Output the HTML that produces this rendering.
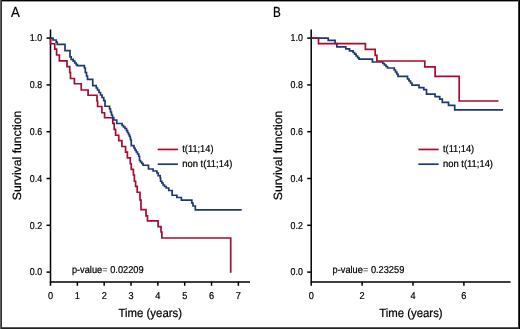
<!DOCTYPE html>
<html><head><meta charset="utf-8"><title>Survival function</title>
<style>html,body{margin:0;padding:0;background:#fff;}body{width:520px;height:329px;overflow:hidden;}svg{display:block;}text{font-family:"Liberation Sans",sans-serif;fill:#000;stroke:#000;stroke-width:0.22px;text-rendering:geometricPrecision;}</style></head><body>
<svg width="520" height="329" viewBox="0 0 520 329">
<rect x="0" y="0" width="520" height="329" fill="#fff"/>
<g fill="none" stroke="#000" stroke-width="1.5">
<path d="M50.50 29.5 V281.9 H250.00"/>
<path d="M46.50 38.10 H50.50"/>
<path d="M46.50 84.90 H50.50"/>
<path d="M46.50 131.70 H50.50"/>
<path d="M46.50 178.50 H50.50"/>
<path d="M46.50 225.30 H50.50"/>
<path d="M46.50 272.10 H50.50"/>
<path d="M50.50 281.9 V285.8"/>
<path d="M77.34 281.9 V285.8"/>
<path d="M104.18 281.9 V285.8"/>
<path d="M131.02 281.9 V285.8"/>
<path d="M157.86 281.9 V285.8"/>
<path d="M184.70 281.9 V285.8"/>
<path d="M211.54 281.9 V285.8"/>
<path d="M238.38 281.9 V285.8"/>
</g>
<text x="29.80" y="41.40" font-size="10.00" text-anchor="start" textLength="12.30" lengthAdjust="spacingAndGlyphs">1.0</text>
<text x="29.80" y="88.20" font-size="10.00" text-anchor="start" textLength="12.30" lengthAdjust="spacingAndGlyphs">0.8</text>
<text x="29.80" y="135.00" font-size="10.00" text-anchor="start" textLength="12.30" lengthAdjust="spacingAndGlyphs">0.6</text>
<text x="29.80" y="181.80" font-size="10.00" text-anchor="start" textLength="12.30" lengthAdjust="spacingAndGlyphs">0.4</text>
<text x="29.80" y="228.60" font-size="10.00" text-anchor="start" textLength="12.30" lengthAdjust="spacingAndGlyphs">0.2</text>
<text x="29.80" y="275.40" font-size="10.00" text-anchor="start" textLength="12.30" lengthAdjust="spacingAndGlyphs">0.0</text>
<text x="47.95" y="298.80" font-size="10.00" text-anchor="start" textLength="5.10" lengthAdjust="spacingAndGlyphs">0</text>
<text x="74.79" y="298.80" font-size="10.00" text-anchor="start" textLength="5.10" lengthAdjust="spacingAndGlyphs">1</text>
<text x="101.63" y="298.80" font-size="10.00" text-anchor="start" textLength="5.10" lengthAdjust="spacingAndGlyphs">2</text>
<text x="128.47" y="298.80" font-size="10.00" text-anchor="start" textLength="5.10" lengthAdjust="spacingAndGlyphs">3</text>
<text x="155.31" y="298.80" font-size="10.00" text-anchor="start" textLength="5.10" lengthAdjust="spacingAndGlyphs">4</text>
<text x="182.15" y="298.80" font-size="10.00" text-anchor="start" textLength="5.10" lengthAdjust="spacingAndGlyphs">5</text>
<text x="208.99" y="298.80" font-size="10.00" text-anchor="start" textLength="5.10" lengthAdjust="spacingAndGlyphs">6</text>
<text x="235.83" y="298.80" font-size="10.00" text-anchor="start" textLength="5.10" lengthAdjust="spacingAndGlyphs">7</text>
<text x="11.10" y="17.00" font-size="14.60" text-anchor="start" textLength="8.80" lengthAdjust="spacingAndGlyphs">A</text>
<text transform="translate(21.00 200.2) rotate(-90)" font-size="12" stroke-width="0.08" textLength="89.6" lengthAdjust="spacingAndGlyphs">Survival function</text>
<text x="118.50" y="316.50" font-size="12.00" text-anchor="start" textLength="63.50" lengthAdjust="spacingAndGlyphs" stroke-width="0.08">Time (years)</text>
<text x="71.90" y="272.70" font-size="10.00" text-anchor="start" textLength="71.70" lengthAdjust="spacingAndGlyphs">p-value<tspan fill="#555" stroke="none">=</tspan> 0.02209</text>
<path d="M50.50 38.10 H50.50 V43.75 H54.75 V49.10 H56.60 V55.00 H59.40 V60.80 H67.00 V66.70 H69.75 V72.50 H70.50 V78.50 H74.40 V83.75 H81.25 V90.00 H88.10 V95.25 H97.00 V101.00 H97.60 V106.50 H101.90 V112.75 H104.60 V117.75 H112.75 V123.40 H114.20 V129.40 H115.60 V135.25 H118.75 V140.60 H121.90 V146.50 H125.60 V152.20 H127.40 V157.80 H130.30 V163.75 H131.25 V169.40 H133.40 V175.00 H134.40 V181.25 H135.60 V186.30 H137.20 V192.25 H140.00 V200.00 H141.00 V209.70 H146.00 V215.80 H147.50 V220.80 H158.10 V226.70 H161.00 V232.00 H161.90 V238.00 H230.70 V272.80" fill="none" stroke="#a80a30" stroke-width="1.7" stroke-linejoin="miter"/>
<path d="M50.50 38.10 H53.00 V40.00 H56.20 V42.10 H57.20 V44.40 H65.00 V50.60 H70.00 V56.90 H71.20 V59.40 H73.20 V61.20 H74.80 V63.00 H76.20 V64.60 H77.30 V65.70 H84.40 V68.00 H85.30 V72.50 H86.50 V76.00 H87.50 V79.40 H92.75 V85.60 H96.25 V88.00 H97.50 V90.00 H99.00 V92.50 H100.50 V95.00 H102.00 V97.50 H103.75 V100.60 H105.00 V106.25 H109.60 V109.00 H110.50 V112.00 H111.50 V115.00 H112.50 V117.50 H113.75 V120.00 H116.75 V123.50 H122.10 V125.50 H123.50 V127.00 H125.00 V128.50 H126.50 V130.60 H127.50 V132.50 H128.50 V134.50 H129.40 V136.25 H130.20 V138.00 H130.60 V140.00 H131.25 V145.60 H134.00 V148.00 H135.00 V150.00 H136.20 V152.00 H137.50 V154.00 H138.75 V156.25 H139.50 V160.50 H140.50 V162.00 H141.80 V163.50 H143.10 V165.25 H148.50 V169.00 H153.10 V171.00 H156.90 V173.00 H158.20 V175.60 H160.20 V178.00 H160.60 V181.25 H161.80 V183.00 H163.10 V185.00 H164.50 V186.50 H166.25 V188.00 H168.75 V190.50 H172.10 V195.25 H176.90 V197.50 H181.40 V200.20 H191.80 V203.00 H193.00 V206.00 H195.30 V209.90 H241.70 V209.90" fill="none" stroke="#1c3974" stroke-width="1.7" stroke-linejoin="miter"/>
<path d="M157.70 149.45 H177.90" stroke="#a80a30" stroke-width="1.7"/>
<path d="M157.70 164.2 H177.90" stroke="#1c3974" stroke-width="1.7"/>
<text x="182.30" y="152.30" font-size="10.00" text-anchor="start" textLength="31.20" lengthAdjust="spacingAndGlyphs">t(11;14)</text>
<text x="182.30" y="167.10" font-size="10.00" text-anchor="start" textLength="50.00" lengthAdjust="spacingAndGlyphs">non t(11;14)</text>
<g fill="none" stroke="#000" stroke-width="1.5">
<path d="M311.20 29.5 V281.9 H510.60"/>
<path d="M307.20 38.10 H311.20"/>
<path d="M307.20 84.90 H311.20"/>
<path d="M307.20 131.70 H311.20"/>
<path d="M307.20 178.50 H311.20"/>
<path d="M307.20 225.30 H311.20"/>
<path d="M307.20 272.10 H311.20"/>
<path d="M311.20 281.9 V285.8"/>
<path d="M362.10 281.9 V285.8"/>
<path d="M413.00 281.9 V285.8"/>
<path d="M463.90 281.9 V285.8"/>
</g>
<text x="290.50" y="41.40" font-size="10.00" text-anchor="start" textLength="12.30" lengthAdjust="spacingAndGlyphs">1.0</text>
<text x="290.50" y="88.20" font-size="10.00" text-anchor="start" textLength="12.30" lengthAdjust="spacingAndGlyphs">0.8</text>
<text x="290.50" y="135.00" font-size="10.00" text-anchor="start" textLength="12.30" lengthAdjust="spacingAndGlyphs">0.6</text>
<text x="290.50" y="181.80" font-size="10.00" text-anchor="start" textLength="12.30" lengthAdjust="spacingAndGlyphs">0.4</text>
<text x="290.50" y="228.60" font-size="10.00" text-anchor="start" textLength="12.30" lengthAdjust="spacingAndGlyphs">0.2</text>
<text x="290.50" y="275.40" font-size="10.00" text-anchor="start" textLength="12.30" lengthAdjust="spacingAndGlyphs">0.0</text>
<text x="308.65" y="298.80" font-size="10.00" text-anchor="start" textLength="5.10" lengthAdjust="spacingAndGlyphs">0</text>
<text x="359.55" y="298.80" font-size="10.00" text-anchor="start" textLength="5.10" lengthAdjust="spacingAndGlyphs">2</text>
<text x="410.45" y="298.80" font-size="10.00" text-anchor="start" textLength="5.10" lengthAdjust="spacingAndGlyphs">4</text>
<text x="461.35" y="298.80" font-size="10.00" text-anchor="start" textLength="5.10" lengthAdjust="spacingAndGlyphs">6</text>
<text x="272.90" y="17.00" font-size="14.60" text-anchor="start" textLength="7.80" lengthAdjust="spacingAndGlyphs">B</text>
<text transform="translate(281.70 200.2) rotate(-90)" font-size="12" stroke-width="0.08" textLength="89.6" lengthAdjust="spacingAndGlyphs">Survival function</text>
<text x="379.15" y="316.50" font-size="12.00" text-anchor="start" textLength="63.50" lengthAdjust="spacingAndGlyphs" stroke-width="0.08">Time (years)</text>
<text x="332.60" y="272.70" font-size="10.00" text-anchor="start" textLength="71.70" lengthAdjust="spacingAndGlyphs">p-value<tspan fill="#555" stroke="none">=</tspan> 0.23259</text>
<path d="M311.20 38.10 H328.20 V40.40 H335.10 V43.50 H336.90 V46.80 H345.80 V48.80 H349.50 V50.80 H353.10 V52.50 H354.60 V54.20 H356.10 V56.00 H357.60 V57.70 H359.00 V59.20 H372.40 V62.00 H382.80 V63.50 H384.40 V65.00 H386.00 V66.50 H387.50 V68.00 H394.20 V70.00 H395.50 V72.00 H396.80 V74.00 H398.00 V76.40 H407.50 V79.00 H409.00 V81.00 H410.50 V83.00 H412.00 V85.10 H419.00 V87.70 H423.80 V89.60 H426.50 V94.20 H435.10 V96.60 H439.70 V99.20 H442.30 V102.40 H448.50 V105.40 H454.70 V109.80 H503.10 V109.80" fill="none" stroke="#1c3974" stroke-width="1.7" stroke-linejoin="miter"/>
<path d="M311.20 38.10 H318.50 V43.60 H365.40 V49.40 H375.20 V55.40 H376.90 V61.00 H424.80 V66.90 H435.10 V76.40 H459.20 V101.00 H498.50 V101.00" fill="none" stroke="#a80a30" stroke-width="1.7" stroke-linejoin="miter"/>
<path d="M418.40 149.45 H438.60" stroke="#a80a30" stroke-width="1.7"/>
<path d="M418.40 164.2 H438.60" stroke="#1c3974" stroke-width="1.7"/>
<text x="443.00" y="152.30" font-size="10.00" text-anchor="start" textLength="31.20" lengthAdjust="spacingAndGlyphs">t(11;14)</text>
<text x="443.00" y="167.10" font-size="10.00" text-anchor="start" textLength="50.00" lengthAdjust="spacingAndGlyphs">non t(11;14)</text>
<rect x="0" y="0" width="520" height="1" fill="#000"/>
<rect x="0" y="1" width="520" height="1" fill="#999"/>
<rect x="0" y="327" width="520" height="1" fill="#5a5a5a"/>
<rect x="0" y="328" width="520" height="1" fill="#222"/>
<rect x="0" y="0" width="1" height="329" fill="#606060"/>
<rect x="1" y="0" width="1" height="329" fill="#303030"/>
<rect x="518" y="0" width="1" height="329" fill="#383838"/>
<rect x="519" y="0" width="1" height="329" fill="#000"/>
</svg></body></html>
